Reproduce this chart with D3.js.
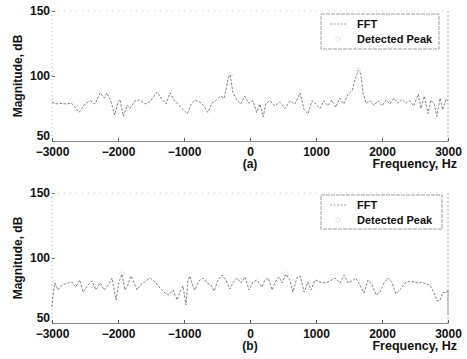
<!DOCTYPE html>
<html>
<head>
<meta charset="utf-8">
<script src="https://cdn.jsdelivr.net/npm/d3@7"></script>
<style>
  body { margin: 0; background: #fff; }
  svg { font-family: "Liberation Sans", Arial, sans-serif; }
</style>
</head>
<body>
<div id="chart"></div>
<script>
// panel (a): FFT magnitude spectrum
const freqA = [-3000, -2940, -2880, -2790, -2700, -2590, -2500, -2420, -2350, -2270, -2210, -2170, -2110, -2050, -2000, -1970, -1920, -1860, -1820, -1740, -1670, -1590, -1520, -1410, -1330, -1270, -1210, -1150, -1090, -1030, -950, -890, -830, -760, -700, -640, -580, -520, -450, -390, -330, -300, -260, -200, -140, -80, -15, 45, 100, 150, 200, 240, 300, 380, 450, 530, 610, 680, 760, 820, 880, 940, 1000, 1060, 1120, 1180, 1240, 1300, 1360, 1420, 1480, 1550, 1590, 1640, 1680, 1710, 1760, 1820, 1880, 1940, 2000, 2060, 2120, 2180, 2240, 2300, 2360, 2420, 2480, 2550, 2590, 2640, 2700, 2740, 2790, 2830, 2880, 2920, 2970, 3000];
const magA = [80, 78.5, 79, 78.5, 79, 72, 78.5, 81, 78.5, 87, 83, 87, 81, 70, 80, 82, 69, 77.5, 75, 81, 81.5, 78.5, 80, 87.5, 82, 78.5, 87, 81.5, 78.5, 75, 71, 78.5, 81.5, 80, 77, 72, 79, 81, 84.5, 83, 98.5, 101, 87.5, 81.5, 78.5, 84.5, 79, 81, 72, 78.5, 68.5, 79, 81, 77, 80, 75, 81, 78.5, 87, 74, 71, 81, 78.5, 75, 81, 77, 81.5, 76, 83, 78.5, 85.5, 89, 97, 104.5, 101.5, 87.5, 79, 81, 77.5, 81, 77, 81.5, 78.5, 83, 79, 82, 79, 81, 77, 86, 75, 84.5, 71, 81.5, 78.5, 69, 83, 74, 82, 81];
const peakFreqA = [-300, 1640];
const peakMagA = [101, 104.5];

// panel (b)
const freqB = [-3000, -2985, -2955, -2910, -2850, -2760, -2700, -2640, -2580, -2530, -2455, -2395, -2335, -2270, -2210, -2150, -2090, -2030, -1985, -1940, -1895, -1850, -1805, -1760, -1710, -1665, -1515, -1425, -1365, -1290, -1230, -1165, -1105, -1060, -1015, -970, -940, -910, -880, -835, -775, -710, -650, -590, -545, -485, -425, -365, -305, -260, -195, -135, -75, -15, 45, 105, 180, 225, 275, 335, 380, 440, 485, 545, 605, 650, 710, 760, 820, 880, 925, 985, 1060, 1150, 1210, 1290, 1365, 1425, 1485, 1545, 1605, 1665, 1725, 1790, 1850, 1910, 1970, 2030, 2090, 2150, 2210, 2270, 2350, 2425, 2485, 2545, 2605, 2665, 2725, 2790, 2835, 2880, 2925, 2970, 3000, 3000];
const magB = [62.3, 70.8, 80.8, 75.4, 79.2, 80.8, 81.5, 77.7, 83.1, 73.8, 79.2, 82.3, 75.4, 80.8, 75.4, 79.2, 84.6, 67.7, 81.5, 87.7, 75.4, 79.2, 86.2, 81.5, 75.4, 79.2, 84.6, 80.8, 76.9, 73.1, 71.5, 75.4, 67.7, 73.8, 78.5, 63.8, 83.1, 86.2, 80.8, 75.4, 82.3, 84.6, 80.8, 79.2, 74.6, 83.1, 86.9, 83.1, 76.2, 80.8, 84.6, 80.8, 85.4, 75.4, 81.5, 83.1, 77.7, 83.1, 84.6, 75.4, 81.5, 85.4, 80.8, 87.7, 83.1, 73.8, 84.6, 86.2, 73.8, 81.5, 75.4, 83.1, 81.5, 80.8, 82.3, 84.6, 80.8, 86.9, 80.8, 82.3, 84.6, 79.2, 73.1, 83.1, 79.2, 71.5, 73.8, 80.8, 84.6, 81.5, 72.3, 75.4, 80.8, 82.3, 81.5, 80.8, 81.5, 80, 79.2, 73.1, 66.9, 67.7, 73.8, 73.1, 75.4, 56];
const peakFreqB = [-1940, 545];
const peakMagB = [87.7, 87.7];

const xTicks = [-3000, -2000, -1000, 0, 1000, 2000, 3000];
const yTicks = [50, 100, 150];
const legendLabels = ['FFT', 'Detected Peak'];

const W = 467, H = 359;
const svg = d3.select('#chart').append('svg').attr('width', W).attr('height', H);

function drawPanel(p) {
  const x = d3.scaleLinear().domain([-3000, 3000]).range([52, 448]);
  const y = d3.scaleLinear().domain([50, 150]).range([p.bottom, p.top]);
  const g = svg.append('g');

  // frame: dotted top/left/right, solid bottom
  g.append('line').attr('x1', 52).attr('x2', 448).attr('y1', p.top).attr('y2', p.top)
    .attr('stroke', '#bbb').attr('stroke-width', 0.8).attr('stroke-dasharray', '1,5');
  g.append('line').attr('x1', 52).attr('x2', 52).attr('y1', p.top).attr('y2', p.bottom)
    .attr('stroke', '#999').attr('stroke-width', 0.8).attr('stroke-dasharray', '1,3');
  g.append('line').attr('x1', 448).attr('x2', 448).attr('y1', p.top).attr('y2', p.bottom)
    .attr('stroke', '#999').attr('stroke-width', 0.8).attr('stroke-dasharray', '2,2');

  const xAxis = g.append('g').attr('transform', `translate(0,${p.bottom})`)
    .call(d3.axisBottom(x).tickValues(xTicks).tickSizeInner(-3).tickSizeOuter(0).tickPadding(6).tickFormat(d3.format('d')));
  xAxis.select('.domain').attr('stroke', '#888').attr('stroke-width', 1.2);
  xAxis.selectAll('.tick line').attr('stroke', '#555');
  xAxis.selectAll('text').attr('font-size', 12).attr('fill', '#111').attr('font-weight', 'bold')
    .attr('font-family', '"Liberation Sans", Arial, sans-serif');

  const yAxis = g.append('g').attr('transform', 'translate(52,0)')
    .call(d3.axisLeft(y).tickValues(yTicks).tickSizeInner(-3).tickSizeOuter(0).tickPadding(2));
  yAxis.select('.domain').remove();
  yAxis.selectAll('.tick line').attr('stroke', '#777');
  yAxis.selectAll('text').attr('font-size', 12).attr('fill', '#111').attr('font-weight', 'bold')
    .attr('dy', d => d === 50 ? '-0.12em' : '0.32em')
    .attr('font-family', '"Liberation Sans", Arial, sans-serif');

  const line = d3.line().x(d => x(d[0])).y(d => y(d[1]));
  g.append('path').datum(d3.zip(p.freq, p.mag)).attr('d', line)
    .attr('fill', 'none').attr('stroke', '#6a6a6a').attr('stroke-width', 0.85)
    .attr('stroke-dasharray', '2.5,1.5');

  g.selectAll('.peak').data(d3.zip(p.peakF, p.peakM)).enter().append('circle')
    .attr('class', 'peak').attr('cx', d => x(d[0])).attr('cy', d => y(d[1])).attr('r', 2.2)
    .attr('fill', 'none').attr('stroke', '#bbb').attr('stroke-width', 0.7).attr('stroke-dasharray', '1,1');

  // labels
  g.append('text').attr('transform', `translate(22,${(p.top + p.bottom) / 2}) rotate(-90)`)
    .attr('text-anchor', 'middle').attr('font-size', 12).attr('font-weight', 'bold').attr('fill', '#111')
    .text('Magnitude, dB');
  g.append('text').attr('x', 250).attr('y', p.bottom + 27).attr('text-anchor', 'middle')
    .attr('font-size', 12).attr('font-weight', 'bold').attr('fill', '#111').text(p.tag);
  g.append('text').attr('x', 457).attr('y', p.bottom + 27).attr('text-anchor', 'end')
    .attr('font-size', 12.5).attr('font-weight', 'bold').attr('fill', '#111').text('Frequency, Hz');

  // legend
  const lg = g.append('g');
  lg.append('rect').attr('x', 321).attr('y', p.legTop).attr('width', p.legW).attr('height', p.legH)
    .attr('fill', '#fff').attr('stroke', '#888').attr('stroke-width', 0.8).attr('stroke-dasharray', '4,1');
  lg.append('line').attr('x1', 330).attr('x2', 347).attr('y1', p.legTop + 10).attr('y2', p.legTop + 10)
    .attr('stroke', '#888').attr('stroke-width', 0.8).attr('stroke-dasharray', '2,1.5');
  lg.append('circle').attr('cx', 338).attr('cy', p.legTop + 25).attr('r', 2.2)
    .attr('fill', 'none').attr('stroke', '#bbb').attr('stroke-width', 0.7).attr('stroke-dasharray', '1,1');
  lg.selectAll('.lt').data(legendLabels).enter().append('text').attr('class', 'lt')
    .attr('x', 357).attr('y', (d, i) => p.legTop + 14 + i * 15)
    .attr('font-size', 11).attr('font-weight', 'bold').attr('fill', '#111').text(d => d);
}

drawPanel({ top: 11, bottom: 141, freq: freqA, mag: magA, peakF: peakFreqA, peakM: peakMagA,
  tag: '(a)', legTop: 14, legW: 118, legH: 35 });
drawPanel({ top: 193, bottom: 323, freq: freqB, mag: magB, peakF: peakFreqB, peakM: peakMagB,
  tag: '(b)', legTop: 195, legW: 121, legH: 34 });
</script>
</body>
</html>
